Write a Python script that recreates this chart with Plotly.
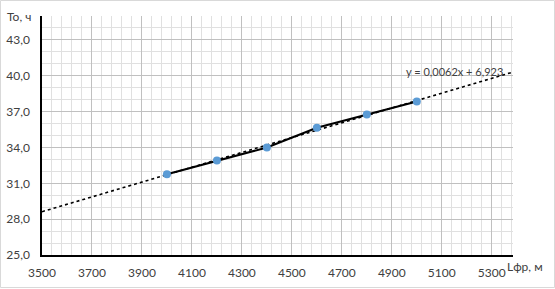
import plotly.graph_objects as go

# Data
length_m = [4000, 4200, 4400, 4600, 4800, 5000]
time_h = [31.75, 32.9, 34.0, 35.65, 36.75, 37.85]
trend_slope = 0.0062
trend_intercept = 6.923
trend_label = "y = 0,0062x + 6,923"
x_range = [3500, 5385]
y_range = [25, 45]

W, H = 555, 289
ml, mr, mt, mb = 42, 42, 16, 34
pw, ph = W - ml - mr, H - mt - mb

font_family = "Lato, 'Open Sans', sans-serif"

fig = go.Figure()

trend_x = x_range
trend_y = [trend_slope * v + trend_intercept for v in trend_x]
fig.add_trace(go.Scatter(
    x=trend_x, y=trend_y, mode="lines",
    line=dict(color="black", width=1.6, dash="dot"),
    hoverinfo="skip", showlegend=False, cliponaxis=True,
))
fig.add_trace(go.Scatter(
    x=length_m, y=time_h, mode="lines+markers",
    line=dict(color="black", width=2),
    marker=dict(color="#5B9BD5", size=8),
    showlegend=False,
))

fig.update_layout(
    width=W, height=H,
    margin=dict(l=ml, r=mr, t=mt, b=mb, pad=0, autoexpand=False),
    paper_bgcolor="white", plot_bgcolor="white",
    separators=", ",
    font=dict(family=font_family, size=12, color="#404040"),
    xaxis=dict(
        range=x_range, tick0=3500, dtick=200, tickformat="d",
        showgrid=True, gridcolor="#c0c0c0", gridwidth=1,
        minor=dict(tick0=3500, dtick=40, showgrid=True, gridcolor="#e0e0e0", gridwidth=1),
        showline=True, linecolor="black", linewidth=1.5,
        zeroline=False, ticks="", ticklabelstandoff=6, automargin=False,
        tickfont=dict(size=12, color="#404040"),
    ),
    yaxis=dict(
        range=y_range, tick0=25, dtick=3, tickformat=".1f",
        showgrid=True, gridcolor="#c0c0c0", gridwidth=1,
        minor=dict(tick0=25, dtick=1, showgrid=True, gridcolor="#e0e0e0", gridwidth=1),
        showline=True, linecolor="black", linewidth=1.5,
        zeroline=False, ticks="", ticklabelstandoff=8, automargin=False,
        tickfont=dict(size=12, color="#404040"),
    ),
    annotations=[
        dict(text="То, ч", xref="paper", yref="paper",
             x=(19 - ml) / pw, y=(H - mb - 16) / ph,
             showarrow=False, xanchor="center", yanchor="middle",
             font=dict(size=12, color="#404040")),
        dict(text="Lфр, м", xref="paper", yref="paper",
             x=(525 - ml) / pw, y=(H - mb - 266) / ph,
             showarrow=False, xanchor="center", yanchor="middle",
             font=dict(size=12, color="#404040")),
        dict(text=trend_label, xref="x", yref="y",
             x=5150, y=40.34, showarrow=False,
             xanchor="center", yanchor="middle",
             font=dict(size=11, color="#404040")),
    ],
    shapes=[
        dict(type="rect", xref="paper", yref="paper",
             x0=(0.5 - ml) / pw, x1=(W - 0.5 - ml) / pw,
             y0=(H - mb - (H - 1.5)) / ph, y1=(H - mb - 0.5) / ph,
             line=dict(color="#d9d9d9", width=1), layer="below"),
    ],
)

fig.write_html("out.html")
